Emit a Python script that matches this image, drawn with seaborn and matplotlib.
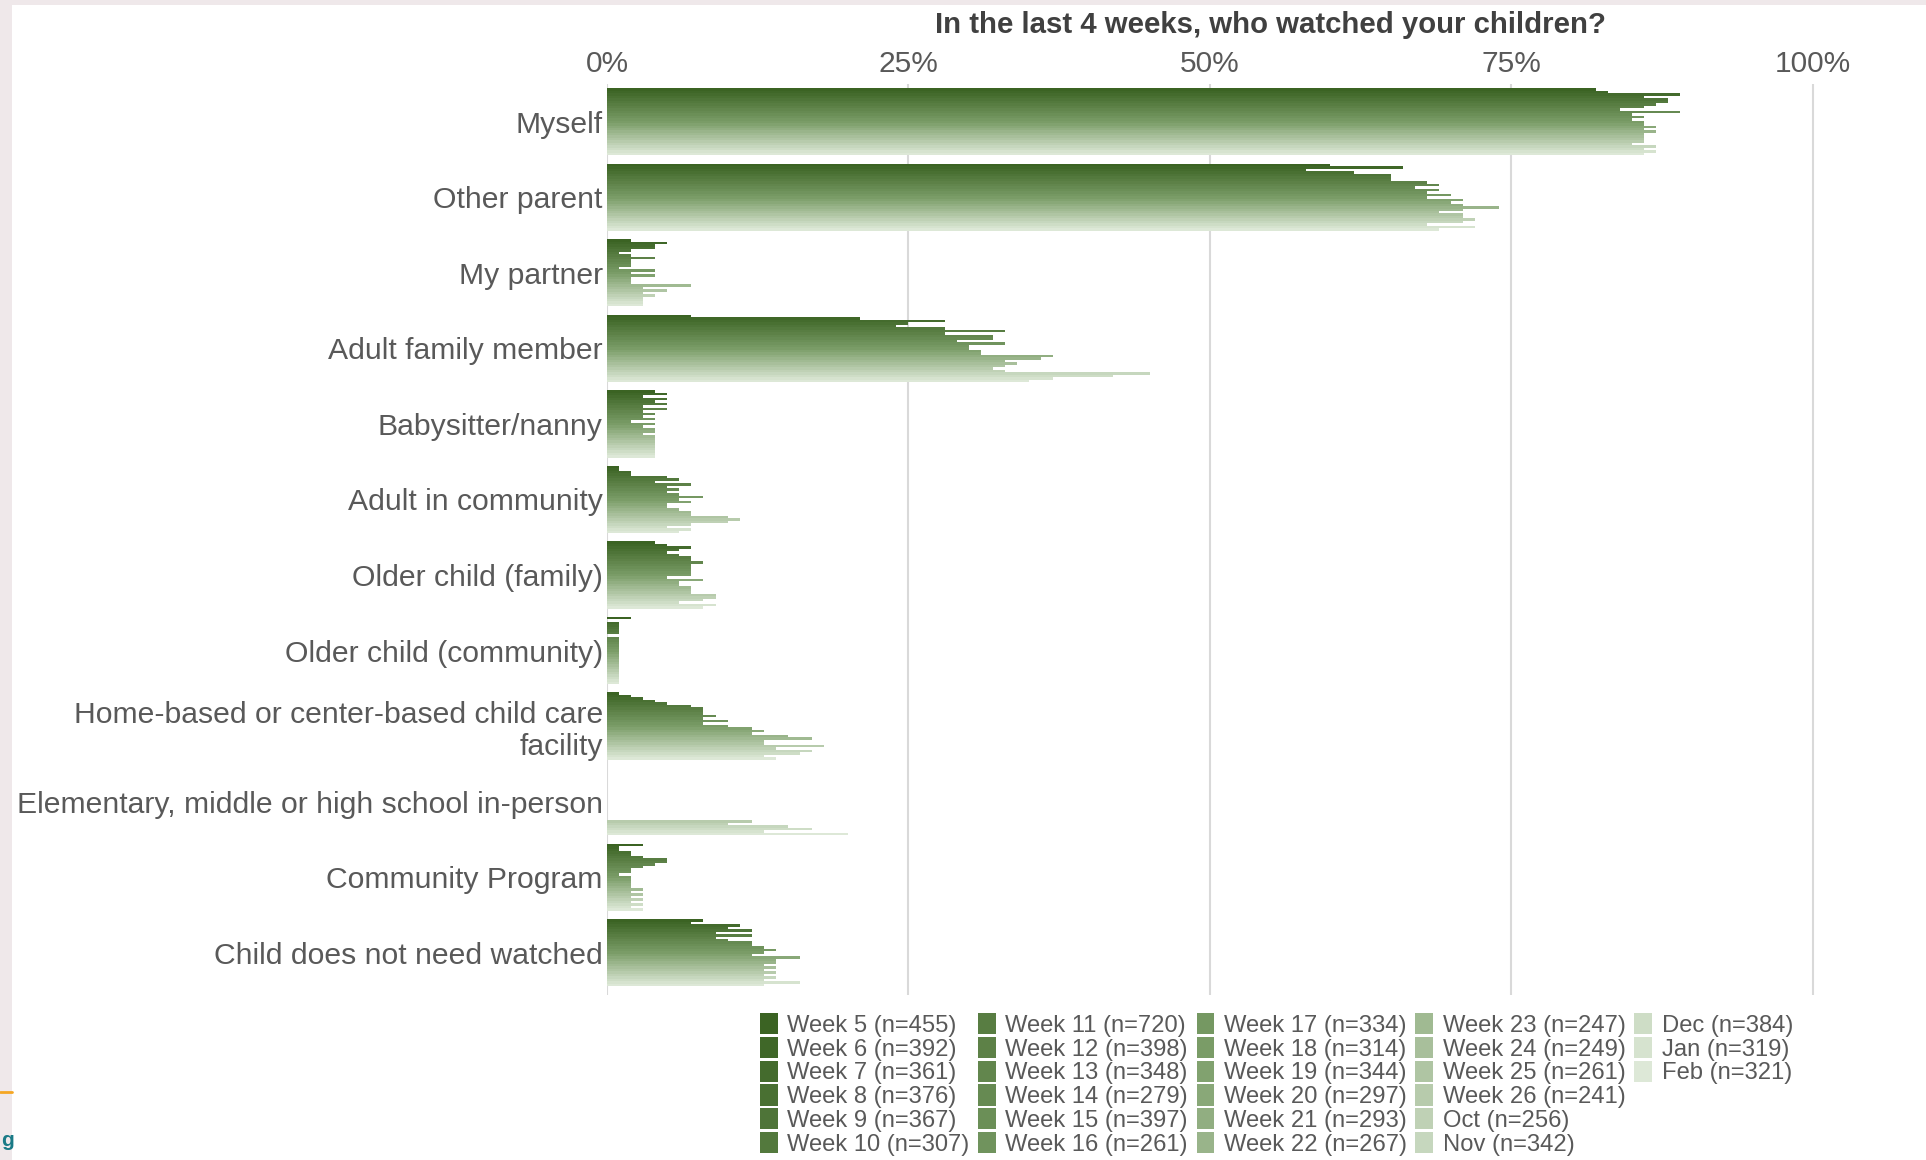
import numpy as np
import pandas as pd
import matplotlib.pyplot as plt
import seaborn as sns
from matplotlib.colors import LinearSegmentedColormap, to_hex
from matplotlib.patches import Patch, Rectangle
from matplotlib.lines import Line2D

# Survey periods (legend order) and sample sizes
periods = ['Week 5', 'Week 6', 'Week 7', 'Week 8', 'Week 9', 'Week 10',
           'Week 11', 'Week 12', 'Week 13', 'Week 14', 'Week 15', 'Week 16',
           'Week 17', 'Week 18', 'Week 19', 'Week 20', 'Week 21', 'Week 22',
           'Week 23', 'Week 24', 'Week 25', 'Week 26', 'Oct', 'Nov', 'Dec', 'Jan', 'Feb']
sample_n = [455, 392, 361, 376, 367, 307, 720, 398, 348, 279, 397, 261,
            334, 314, 344, 297, 293, 267, 247, 249, 261, 241, 256, 342, 384, 319, 321]

categories = ['Myself', 'Other parent', 'My partner', 'Adult family member',
              'Babysitter/nanny', 'Adult in community', 'Older child (family)',
              'Older child (community)', 'Home-based or center-based child care\nfacility',
              'Elementary, middle or high school in-person', 'Community Program',
              'Child does not need watched']

# Percent of respondents, one value per period
myself = [82, 83, 89, 86, 88, 88, 87, 86, 84, 89, 85, 86, 85, 86, 86, 87, 86, 87, 86, 86, 86, 86, 85, 87, 86, 87, 86]
other_parent = [60, 66, 58, 62, 65, 65, 65, 68, 69, 67, 69, 68, 70, 68, 71, 70, 71, 74, 71, 69, 71, 71, 72, 71, 68, 72, 69]
my_partner = [2, 5, 4, 4, 2, 1, 2, 4, 2, 2, 2, 1, 4, 2, 4, 2, 2, 2, 7, 3, 5, 3, 4, 3, 3, 3, 3]
adult_family = [7, 21, 28, 25, 24, 28, 33, 28, 32, 32, 29, 33, 30, 30, 31, 31, 37, 36, 33, 34, 33, 32, 33, 45, 42, 37, 35]
babysitter = [4, 5, 3, 5, 4, 5, 3, 5, 3, 4, 3, 4, 2, 4, 3, 4, 4, 3, 4, 4, 4, 4, 4, 4, 4, 4, 4]
adult_community = [1, 1, 2, 2, 5, 6, 4, 7, 5, 6, 5, 6, 8, 6, 7, 5, 5, 6, 7, 7, 10, 11, 10, 7, 5, 7, 6]
older_child_family = [4, 5, 7, 6, 5, 6, 7, 7, 8, 7, 7, 7, 7, 7, 5, 8, 6, 6, 7, 7, 7, 9, 9, 8, 6, 9, 8]
older_child_community = [2, 0, 1, 1, 1, 1, 1, 0, 1, 1, 1, 1, 1, 1, 1, 1, 1, 1, 1, 1, 1, 1, 1, 1, 1, 1, 1]
child_care_facility = [1, 2, 3, 4, 5, 7, 8, 8, 8, 9, 8, 10, 8, 10, 12, 13, 12, 15, 17, 13, 13, 18, 14, 17, 16, 13, 14]
school_in_person = [0, 0, 0, 0, 0, 0, 0, 0, 0, 0, 0, 0, 0, 0, 0, 0, 0, 0, 0, 0, 0, 12, 10, 15, 17, 13, 20]
community_program = [3, 1, 1, 2, 2, 3, 5, 5, 4, 3, 2, 2, 1, 2, 2, 2, 2, 2, 3, 2, 3, 2, 3, 2, 3, 2, 3]
not_needed = [8, 7, 11, 10, 12, 9, 12, 9, 10, 12, 12, 13, 14, 13, 12, 16, 14, 14, 13, 14, 13, 14, 13, 14, 13, 16, 13]

series = [myself, other_parent, my_partner, adult_family, babysitter, adult_community,
          older_child_family, older_child_community, child_care_facility,
          school_in_person, community_program, not_needed]

# Long table for seaborn
rows = []
for cat, vals in zip(categories, series):
    for p, v in zip(periods, vals):
        rows.append({'category': cat, 'period': p, 'value': v})
df = pd.DataFrame(rows)

# Dark green -> pale green, one shade per period
cmap = LinearSegmentedColormap.from_list('greens', ['#3b6323', '#7a9c67', '#dde8d7'])
colors = [to_hex(cmap(i / (len(periods) - 1))) for i in range(len(periods))]

sns.set_theme(style='white')
plt.rcParams['font.family'] = ['Liberation Sans', 'DejaVu Sans']

fig = plt.figure(figsize=(19.26, 11.6), dpi=100)
ax = fig.add_axes([607 / 1926, 1 - 995 / 1160, (1815 - 607) / 1926, (995 - 84) / 1160])

sns.barplot(data=df, x='value', y='category', hue='period', hue_order=periods,
            order=categories, palette=colors, orient='h', width=0.89,
            errorbar=None, linewidth=0, saturation=1, legend=False, ax=ax)

# Axis styling
ax.set_xlim(0, 100.2)
ax.set_ylim(11.56, -0.5)
ax.set_xticks([0, 25, 50, 75, 100])
ax.set_xticklabels(['0%', '25%', '50%', '75%', '100%'])
ax.xaxis.tick_top()
ax.tick_params(axis='x', length=0, pad=4, labelsize=21.5, labelcolor='#595959')
ax.tick_params(axis='y', length=0, pad=3, labelsize=21.7, labelcolor='#595959')
ax.set_xlabel('')
ax.set_ylabel('')
ax.grid(axis='x', color='#d9d9d9', linewidth=1.5)
ax.set_axisbelow(True)
for s in ax.spines.values():
    s.set_visible(False)

fig.text(1270 / 1926, 1 - 25 / 1160, 'In the last 4 weeks, who watched your children?',
         ha='center', va='center', fontsize=21.2, fontweight='bold', color='#404040')

# Legend: 5 columns x 6 rows, padded with blanks
handles = [Patch(facecolor=c, edgecolor='none') for c in colors]
labels = [f'{p} (n={n})' for p, n in zip(periods, sample_n)]
for _ in range(3):
    handles.append(Patch(facecolor='none', edgecolor='none'))
    labels.append('')
fig.legend(handles, labels, loc='upper left', bbox_to_anchor=(760 / 1926, 1 - 1013 / 1160),
           ncol=5, frameon=False, fontsize=17.1, handlelength=0.75, handleheight=1.0,
           handletextpad=0.4, columnspacing=0.36, labelspacing=0.0, borderaxespad=0,
           borderpad=0, labelcolor='#595959')

# Page edge bits from the screenshot
fig.patches.append(Rectangle((0, 0), 12 / 1926, 1, transform=fig.transFigure,
                             facecolor='#efe8ea', edgecolor='none', zorder=0))
fig.patches.append(Rectangle((0, 1 - 5 / 1160), 1, 5 / 1160, transform=fig.transFigure,
                             facecolor='#efe8ea', edgecolor='none', zorder=0))
fig.lines.append(Line2D([0, 12 / 1926], [1 - 1092 / 1160] * 2, transform=fig.transFigure,
                        color='#f5a623', linewidth=2))
fig.text(1 / 1926, 1 - 1140 / 1160, 'g', fontsize=15, fontweight='bold',
         color='#1a7a86', ha='left', va='center')

fig.savefig('out.png', dpi=100)
